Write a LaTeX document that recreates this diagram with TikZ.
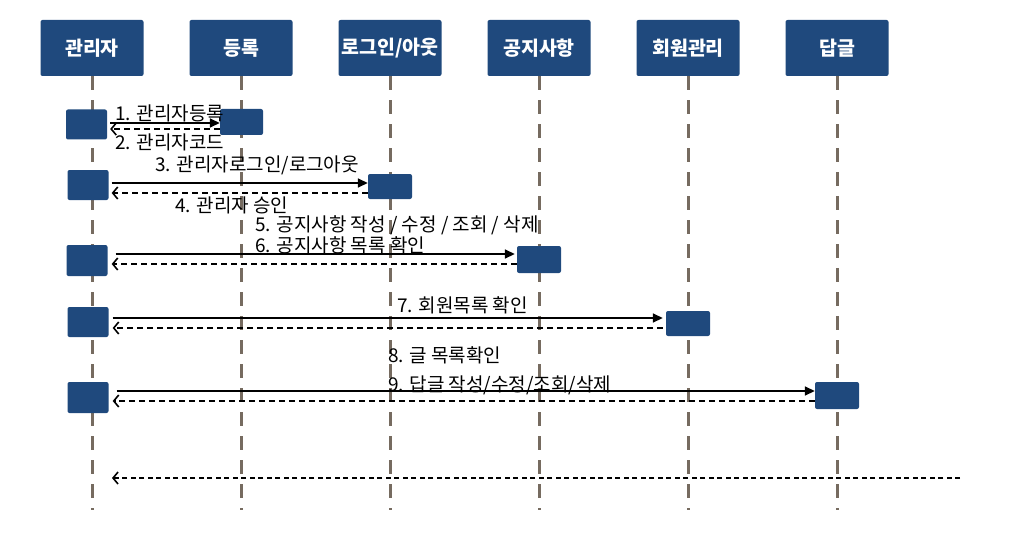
\documentclass[tikz,border=0pt]{standalone}
\usepackage{fontspec}
\setmainfont{Noto Sans CJK KR}
\usetikzlibrary{arrows.meta}
\definecolor{boxblue}{RGB}{31,73,125}
\definecolor{lifegray}{RGB}{118,107,96}
\tikzset{
  head/.style={fill=boxblue, rounded corners=2pt, text=white, minimum width=103pt, minimum height=56pt, inner sep=0pt, font=\fontsize{19.5}{21}\selectfont\bfseries},
  act/.style={fill=boxblue, rounded corners=2pt, minimum width=41pt, minimum height=30pt, inner sep=0pt},
  life/.style={draw=lifegray, line width=3pt, dash pattern=on 14pt off 10pt},
  call/.style={line width=1.6pt, -{Triangle[length=10pt,width=9pt]}},
  back/.style={line width=1.6pt, dash pattern=on 6pt off 4pt, -{Straight Barb[length=5pt,width=12pt,line width=1.6pt]}},
  msg/.style={anchor=west, inner sep=0pt, font=\fontsize{19}{21}\selectfont}
}
\begin{document}
\begin{tikzpicture}[x=1pt,y=-1pt]
\useasboundingbox (0,0) rectangle (1017,559);
\node[head] (hAdm) at (92,48) {관리자};
\node[head] (hReg) at (241,48) {등록};
\node[head] (hLog) at (390,48) {로그인/아웃};
\node[head] (hNot) at (539,48) {공지사항};
\node[head] (hMem) at (688,48) {회원관리};
\node[head] (hRep) at (837,48) {답글};
\foreach \h in {hAdm,hReg,hLog,hNot,hMem,hRep}
  \draw[life] (\h.south) -- ++(0,434);

\node[act] (adm1) at (86.5,124.5) {};
\node[act, minimum width=43pt, minimum height=26pt] (reg1) at (241.5,122) {};
\node[act] (adm2) at (88,185) {};
\node[act, minimum width=44pt, minimum height=25pt] (log2) at (390,186.5) {};
\node[act, minimum height=31pt] (adm3) at (87,260.5) {};
\node[act, minimum width=44pt, minimum height=27pt] (not3) at (539,259.5) {};
\node[act] (adm4) at (88,322) {};
\node[act, minimum width=44pt, minimum height=25pt] (mem4) at (688,323.5) {};
\node[act, minimum height=31pt] (adm5) at (88,397.5) {};
\node[act, minimum width=44pt, minimum height=27pt] (rep5) at (837,395.5) {};
\coordinate (end6) at (960,478);
\coordinate (adm6) at (112,478);

\draw[call] ([shift={(3pt,1.5pt)}]adm1.east) -- ([yshift=-1pt]reg1.west);
\draw[back] ([yshift=-7pt]reg1.west) -- ([shift={(3pt,-4.5pt)}]adm1.east);
\draw[call] ([shift={(3pt,2pt)}]adm2.east) -- ([yshift=3.5pt]log2.west);
\draw[back] ([yshift=-6.5pt]log2.west) -- ([shift={(3pt,-8pt)}]adm2.east);
\draw[call] ([shift={(8pt,6.5pt)}]adm3.east) -- ([shift={(-2pt,5.5pt)}]not3.west);
\draw[back] ([yshift=-4.5pt]not3.west) -- ([shift={(4pt,-3.5pt)}]adm3.east);
\draw[call] ([shift={(4pt,4pt)}]adm4.east) -- ([shift={(-3pt,5.5pt)}]mem4.west);
\draw[back] ([shift={(-3pt,-4.5pt)}]mem4.west) -- ([shift={(4pt,-6pt)}]adm4.east);
\draw[call] ([shift={(8pt,6.5pt)}]adm5.east) -- ([yshift=4.5pt]rep5.west);
\draw[back] ([yshift=-5.5pt]rep5.west) -- ([shift={(4pt,-3.5pt)}]adm5.east);
\draw[back, dash pattern=on 5pt off 3.5pt] (end6) -- (adm6);

\node[msg] (t1) at (115,113) {1. 관리자등록};
\node[msg] (t2) at (115,142) {2. 관리자코드};
\node[msg] (t3) at (155,165) {3. 관리자로그인/로그아웃};
\node[msg] (t4) at (175,205) {4. 관리자 승인};
\node[msg] (t5) at (255,225) {5. 공지사항 작성 / 수정 / 조회 / 삭제};
\node[msg] (t6) at (255,245) {6. 공지사항 목록 확인};
\node[msg] (t7) at (397,305) {7. 회원목록 확인};
\node[msg] (t8) at (388,355) {8. 글 목록확인};
\node[msg] (t9) at (388,385) {9. 답글 작성/수정/조회/삭제};
\end{tikzpicture}
\end{document}
